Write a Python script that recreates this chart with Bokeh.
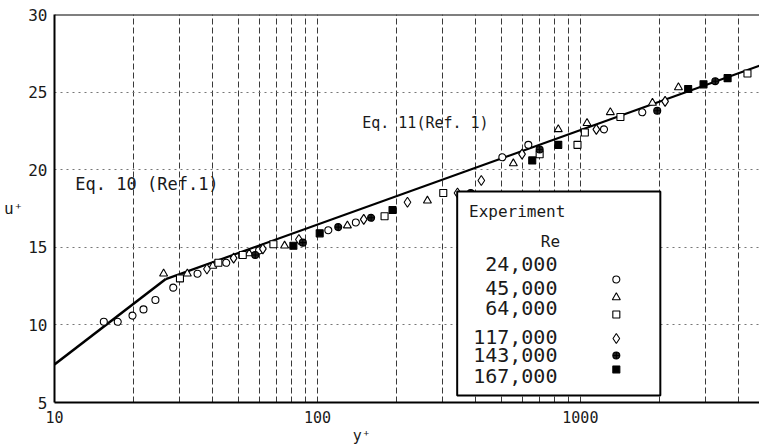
from bokeh.plotting import figure
from bokeh.models import FixedTicker, Span, Label, BoxAnnotation, NumeralTickFormatter
from bokeh.embed import file_html
from bokeh.resources import INLINE

# ---- data ----
re_labels = ["24,000", "45,000", "64,000", "117,000", "143,000", "167,000"]
re_markers = ["circle", "triangle", "square", "diamond", "circle_cross", "square"]
re_fills = ["white", "white", "white", "white", "#222222", "black"]
re_sizes = [7, 8, 7, 10, 7, 7]

re24_y = [15.4, 17.4, 19.8, 21.8, 24.2, 28.3, 35, 45, 60, 110, 140, 505, 634, 1230, 1720]
re24_u = [10.2, 10.2, 10.6, 11.0, 11.6, 12.4, 13.3, 14.0, 14.8, 16.1, 16.6, 20.8, 21.6, 22.6, 23.7]

re45_y = [26, 32, 40, 55, 75, 130, 262, 556, 824, 1060, 1300, 1880, 2360]
re45_u = [13.3, 13.3, 13.8, 14.6, 15.1, 16.4, 18.0, 20.4, 22.6, 23.0, 23.7, 24.3, 25.3]

re64_y = [30, 42, 52, 68, 180, 301, 700, 975, 1040, 1420, 4320]
re64_u = [13.0, 14.0, 14.5, 15.2, 17.0, 18.5, 21.0, 21.6, 22.4, 23.4, 26.2]

re117_y = [38, 48, 62, 85, 150, 220, 341, 420, 600, 1150, 2100]
re117_u = [13.6, 14.3, 14.9, 15.5, 16.8, 17.9, 18.5, 19.3, 21.0, 22.6, 24.4]

re143_y = [58, 88, 120, 160, 383, 700, 1960, 3260]
re143_u = [14.5, 15.3, 16.3, 16.9, 18.5, 21.3, 23.8, 25.7]

re167_y = [81, 102, 193, 656, 824, 2570, 2940, 3630]
re167_u = [15.1, 15.9, 17.4, 20.6, 21.6, 25.2, 25.5, 25.9]

eq10_y = [10, 26.5]
eq10_u = [7.45, 12.95]
eq11_y = [26.5, 4800]
eq11_u = [12.95, 26.7]

x_ticks = [10, 100, 1000]
x_minor = [20, 30, 40, 50, 60, 70, 80, 90, 200, 300, 400, 500, 600, 700, 800, 900,
           2000, 3000, 4000]
y_ticks = [5, 10, 15, 20, 25, 30]

series_y = [re24_y, re45_y, re64_y, re117_y, re143_y, re167_y]
series_u = [re24_u, re45_u, re64_u, re117_u, re143_u, re167_u]

FONT = "DejaVu Sans Mono"
INK = "#1a1a1a"

p = figure(width=759, height=447, x_axis_type="log", x_range=(10, 4800), y_range=(5, 30),
           output_backend="svg", toolbar_location=None,
           min_border_left=54, min_border_right=0, min_border_top=14, min_border_bottom=45)
p.outline_line_color = None
p.background_fill_color = "white"

# axes
p.xaxis.ticker = FixedTicker(ticks=x_ticks, minor_ticks=x_minor)
p.xaxis.formatter = NumeralTickFormatter(format="0")
p.yaxis.ticker = FixedTicker(ticks=y_ticks)
for ax in (p.xaxis, p.yaxis):
    ax.axis_line_color = "black"
    ax.axis_line_width = 2
    ax.major_tick_line_color = None
    ax.minor_tick_line_color = None
    ax.major_tick_out = 0
    ax.major_tick_in = 0
    ax.minor_tick_out = 0
    ax.minor_tick_in = 0
    ax.major_label_text_font = FONT
    ax.major_label_text_color = INK
    ax.axis_label_text_font = FONT
    ax.axis_label_text_font_style = "normal"
    ax.axis_label_text_color = INK
p.xaxis.major_label_text_font_size = "15px"
p.yaxis.major_label_text_font_size = "16px"
p.xaxis.major_label_standoff = 8
p.yaxis.major_label_standoff = 7

# axis titles
p.xaxis.axis_label = "y⁺" + "\u00a0" * 10
p.xaxis.axis_label_text_font_size = "15px"
p.xaxis.axis_label_standoff = 1
p.yaxis.axis_label = "u⁺"
p.yaxis.axis_label_text_font_size = "16px"
p.yaxis.axis_label_standoff = 2
try:
    p.yaxis.axis_label_orientation = "horizontal"
except Exception:
    pass

# grids
p.xgrid.grid_line_color = "#3a3a3a"
p.xgrid.grid_line_dash = "6 3"
p.xgrid.grid_line_width = 1
p.xgrid.minor_grid_line_color = "#3a3a3a"
p.xgrid.minor_grid_line_dash = "6 3"
p.xgrid.minor_grid_line_width = 1
p.ygrid.grid_line_color = "#777777"
p.ygrid.grid_line_dash = "2 4"
p.ygrid.grid_line_width = 1

p.add_layout(Span(location=30, dimension="width", line_color="black", line_width=2))

# reference equations
p.line(eq10_y, eq10_u, line_color="black", line_width=2.5)
p.line(eq11_y, eq11_u, line_color="black", line_width=2.2)

# experiment points
for ys, us, m, f, s in zip(series_y, series_u, re_markers, re_fills, re_sizes):
    p.scatter(ys, us, marker=m, size=s, fill_color=f, line_color="black", line_width=1.1)

# equation captions
p.add_layout(Label(x=12.0, y=19.1, text="Eq. 10 (Ref.1)", text_font=FONT, text_font_size="17px",
                   text_color=INK, text_baseline="middle"))
p.add_layout(Label(x=148, y=23.0, text="Eq. 11(Ref. 1)", text_font=FONT, text_font_size="15px",
                   text_color=INK, text_baseline="middle"))

# legend box
p.add_layout(BoxAnnotation(left=340, right=2014, top=18.6, bottom=5.45, fill_color="white",
                           fill_alpha=1.0, line_color="black", line_alpha=1.0, line_width=2,
                           level="annotation"))
p.add_layout(Label(x=575, y=17.3, text="Experiment", text_font=FONT, text_font_size="16px",
                   text_color=INK, text_align="center", text_baseline="middle", level="overlay"))
p.add_layout(Label(x=769, y=15.37, text="Re", text_font=FONT, text_font_size="16px",
                   text_color=INK, text_align="center", text_baseline="middle", level="overlay"))
leg_text_u = [13.95, 12.4, 11.06, 9.25, 8.03, 6.68]
leg_mark_u = [12.93, 11.77, 10.67, 9.12, 8.03, 7.13]
for lab, tu, mu, m, f, s in zip(re_labels, leg_text_u, leg_mark_u, re_markers, re_fills, re_sizes):
    p.add_layout(Label(x=818, y=tu, text=lab, text_font=FONT, text_font_size="20px",
                       text_color=INK, text_align="right", text_baseline="middle", level="overlay"))
    p.scatter([1370], [mu], marker=m, size=s, fill_color=f, line_color="black",
              line_width=1.1, level="overlay")

open("out.html", "w").write(file_html(p, INLINE))
